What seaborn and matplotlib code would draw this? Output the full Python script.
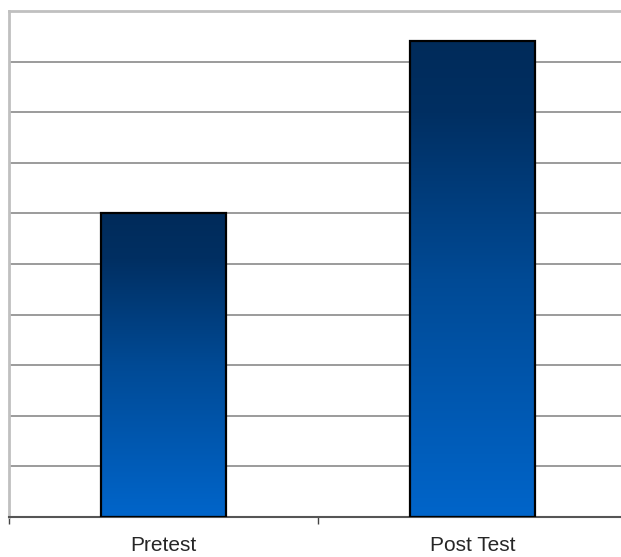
import numpy as np
import pandas as pd
import matplotlib
matplotlib.use("Agg")
import matplotlib.pyplot as plt
import seaborn as sns
from matplotlib.colors import LinearSegmentedColormap

# values (gridlines are 1 unit apart, 0..10)
categories = ["Pretest", "Post Test"]
scores = [6.0, 9.4]

df = pd.DataFrame({"test": categories, "score": scores})

sns.set_style("white")
plt.rcParams['font.family'] = ['Liberation Sans', 'DejaVu Sans']

fig = plt.figure(figsize=(6.21, 5.57), dpi=100)
ax = fig.add_axes([9/621, 40/557, 618/621, 506/557])

sns.barplot(data=df, x="test", y="score", width=0.405, ax=ax,
            color="none", edgecolor="black", linewidth=1.6, zorder=3)

# gradient fill inside each bar (bright at bottom, dark navy at top)
cmap = LinearSegmentedColormap.from_list(
    "blu", [(0, "#0065ca"), (0.5, "#004a95"), (0.85, "#002f62"), (1, "#002b5a")])
grad = np.linspace(0, 1, 256).reshape(-1, 1)
for p in ax.patches:
    x0, y0 = p.get_x(), p.get_y()
    w, h = p.get_width(), p.get_height()
    im = ax.imshow(grad, cmap=cmap, origin="lower", aspect="auto",
                   extent=[x0, x0 + w, y0, y0 + h], zorder=2)
    im.set_clip_path(p)
    p.set_facecolor("none")
ax.set_xlim(-0.5, 1.5)
ax.set_ylim(0, 10)

# horizontal gridlines
ax.set_yticks(range(1, 10))
ax.yaxis.grid(True, color="#808080", linewidth=1.1)
ax.set_axisbelow(True)
ax.tick_params(axis="y", left=False, labelleft=False)

ax.set_xticks([0, 1])
ax.set_xticklabels(categories, fontsize=15)
ax.set_xticks([-0.5, 0.5, 1.5], minor=True)
ax.tick_params(axis="x", which="major", length=0, pad=14)
ax.tick_params(axis="x", which="minor", length=5, width=1, color="#444444", bottom=True)
ax.set_xlabel("")
ax.set_ylabel("")

for s in ["left", "top"]:
    ax.spines[s].set_color("#c0c0c0")
    ax.spines[s].set_linewidth(2)
ax.spines["right"].set_visible(False)
ax.spines["bottom"].set_color("#555555")
ax.spines["bottom"].set_linewidth(1.5)

fig.savefig("out.png", dpi=100)
